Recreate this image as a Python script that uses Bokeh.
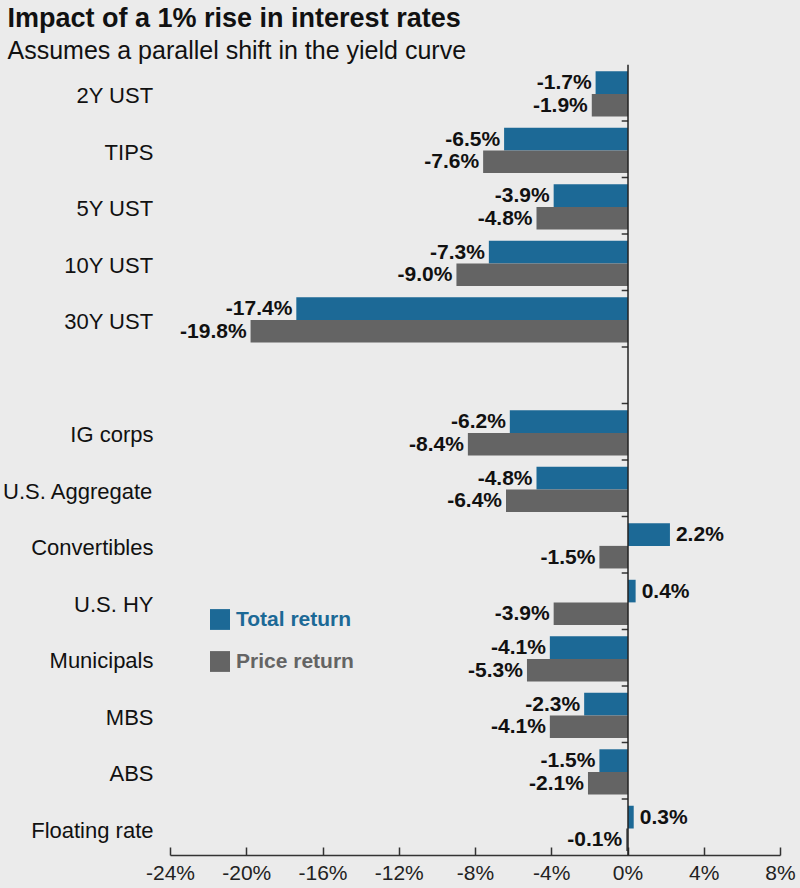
from bokeh.plotting import figure
from bokeh.models import (Range1d, FixedTicker, Span, Title, Legend, LegendItem,
                          ColumnDataSource)
from bokeh.core.properties import value
from bokeh.embed import file_html
from bokeh.resources import INLINE

# ---------------- data ----------------
categories = ["2Y UST", "TIPS", "5Y UST", "10Y UST", "30Y UST",
              "IG corps", "U.S. Aggregate", "Convertibles", "U.S. HY",
              "Municipals", "MBS", "ABS", "Floating rate"]
total_return = [-1.7, -6.5, -3.9, -7.3, -17.4, -6.2, -4.8, 2.2, 0.4, -4.1, -2.3, -1.5, 0.3]
price_return = [-1.9, -7.6, -4.8, -9.0, -19.8, -8.4, -6.4, -1.5, -3.9, -5.3, -4.1, -2.1, -0.1]
x_ticks = [-24, -20, -16, -12, -8, -4, 0, 4, 8]
x_tick_labels = ["-24%", "-20%", "-16%", "-12%", "-8%", "-4%", "0%", "4%", "8%"]
gap_after = 5  # an empty row follows the first five (Treasury) categories

# ---------------- styling ----------------
FONT = "Liberation Sans"
BG = "#ebebeb"
BLUE = "#1c6996"
GRAY = "#646464"
INK = "#111111"

slots = [i if i < gap_after else i + 1 for i in range(len(categories))]
n_slots = len(categories) + 1
shift = 0.05  # category labels sit slightly below the row centre

p = figure(width=800, height=888,
           x_range=Range1d(-24, 8),
           y_range=Range1d(n_slots - 0.5 - shift, -0.5 - shift),
           output_backend="svg", toolbar_location=None,
           min_border_left=170, min_border_right=20, min_border_bottom=33,
           min_border_top=0)
p.background_fill_color = BG
p.border_fill_color = BG
p.outline_line_color = None
p.xgrid.grid_line_color = None
p.ygrid.grid_line_color = None

# titles
sub = Title(text="Assumes a parallel shift in the yield curve", align="left",
            offset=-163, text_font=FONT, text_font_size="25px",
            text_font_style="normal", text_color=INK, standoff=2)
main = Title(text="Impact of a 1% rise in interest rates", align="left",
             offset=-163, text_font=FONT, text_font_size="27px",
             text_font_style="bold", text_color=INK, standoff=0)
p.add_layout(sub, "above")
p.add_layout(main, "above")

# bars
def fmt(v):
    return f"{v:.1f}%"

y_total = [s - 0.18 - shift for s in slots]
y_price = [s + 0.22 - shift for s in slots]

src_t = ColumnDataSource(dict(
    y=y_total, v=total_return, lab=[fmt(v) for v in total_return],
    align=["right" if v < 0 else "left" for v in total_return],
    off=[-4 if v < 0 else 6 for v in total_return]))
src_p = ColumnDataSource(dict(
    y=y_price, v=price_return, lab=[fmt(v) for v in price_return],
    align=["right" if v < 0 else "left" for v in price_return],
    off=[-4 if v < 0 else 6 for v in price_return]))

r_t = p.hbar(y="y", left=0, right="v", height=0.4, source=src_t,
             fill_color=BLUE, line_color=None)
r_p = p.hbar(y="y", left=0, right="v", height=0.4, source=src_p,
             fill_color=GRAY, line_color=None)

for src in (src_t, src_p):
    p.text(x="v", y="y", text="lab", source=src, text_align="align",
           x_offset="off", y_offset=-1, text_baseline="middle",
           text_font=value(FONT), text_font_size="21px",
           text_font_style="bold", text_color=INK)

# zero line with row separators
p.add_layout(Span(location=0, dimension="height", line_color="#222222",
                  line_width=1.5))
bounds = [k - 0.5 - shift for k in range(1, n_slots)]
p.segment(x0=[0] * len(bounds), x1=[-0.33] * len(bounds), y0=bounds, y1=bounds,
          line_color="#333333", line_width=1.5)

# y axis (category labels)
p.yaxis.ticker = FixedTicker(ticks=slots)
p.yaxis.major_label_overrides = {s: c for s, c in zip(slots, categories)}
p.yaxis.axis_line_color = None
p.yaxis.major_tick_line_color = None
p.yaxis.minor_tick_line_color = None
p.yaxis.major_tick_out = 0
p.yaxis.major_label_standoff = 17
p.yaxis.major_label_text_font = FONT
p.yaxis.major_label_text_font_size = "22px"
p.yaxis.major_label_text_color = INK

# x axis
p.xaxis.ticker = FixedTicker(ticks=x_ticks)
p.xaxis.major_label_overrides = {t: l for t, l in zip(x_ticks, x_tick_labels)}
p.xaxis.axis_label = None
p.xaxis.axis_label_standoff = 0
p.xaxis.axis_line_color = "#333333"
p.xaxis.axis_line_width = 1.5
p.xaxis.major_tick_line_color = "#333333"
p.xaxis.major_tick_line_width = 1.5
p.xaxis.major_tick_in = 8
p.xaxis.major_tick_out = 0
p.xaxis.minor_tick_line_color = None
p.xaxis.major_label_standoff = 5
p.xaxis.major_label_text_font = FONT
p.xaxis.major_label_text_font_size = "21px"
p.xaxis.major_label_text_color = "#222222"

# legends (separate so each label has its own colour)
for rend, label, color, loc in ((r_t, "Total return", BLUE, (37, 223)),
                                (r_p, "Price return", GRAY, (37, 181))):
    leg = Legend(items=[LegendItem(label=label, renderers=[rend])],
                 location=loc, padding=0, margin=0, spacing=0,
                 glyph_width=25, glyph_height=26, label_standoff=4,
                 label_height=26,
                 label_text_font=FONT, label_text_font_size="21px",
                 label_text_font_style="bold", label_text_color=color,
                 background_fill_alpha=0, border_line_color=None)
    p.add_layout(leg)

html = file_html(p, INLINE, title="Impact of a 1% rise in interest rates")
html = html.replace("</head>", "<style>body{background:#ebebeb;}</style></head>", 1)
open("out.html", "w").write(html)
